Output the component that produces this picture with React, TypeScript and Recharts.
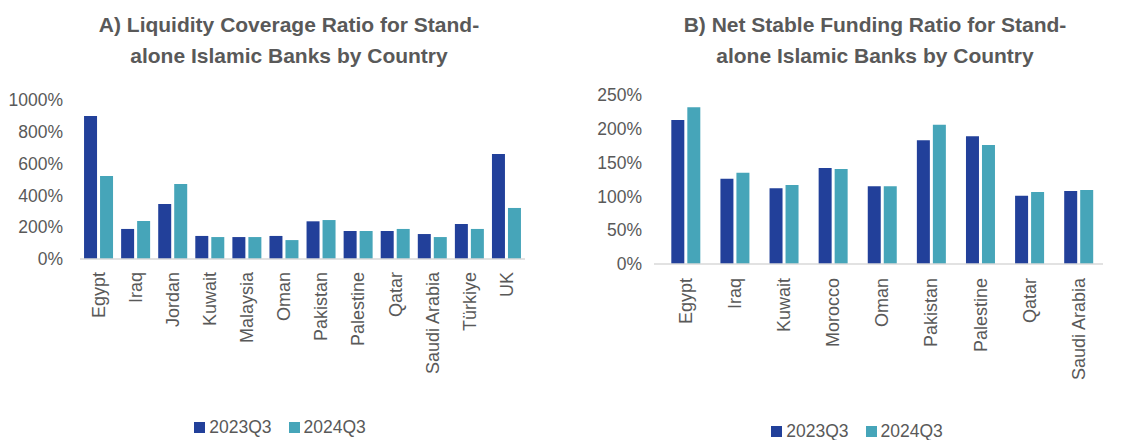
import React from 'react';
import { BarChart, Bar, XAxis, YAxis, Legend } from 'recharts';

const FONT = "'Liberation Sans', Arial, Helvetica, sans-serif";
const TEXT = '#595959';
const DARK = '#22409A';
const LIGHT = '#46A5B9';

// Panel A: Liquidity Coverage Ratio
const lcrCountries = ['Egypt', 'Iraq', 'Jordan', 'Kuwait', 'Malaysia', 'Oman', 'Pakistan', 'Palestine', 'Qatar', 'Saudi Arabia', 'Türkiye', 'UK'];
const lcr2023 = [899, 189, 346, 145, 138, 145, 237, 176, 176, 157, 220, 660];
const lcr2024 = [522, 239, 472, 138, 138, 119, 245, 176, 189, 138, 189, 321];
const lcrTicks = [0, 200, 400, 600, 800, 1000];

// Panel B: Net Stable Funding Ratio
const nsfrCountries = ['Egypt', 'Iraq', 'Kuwait', 'Morocco', 'Oman', 'Pakistan', 'Palestine', 'Qatar', 'Saudi Arabia'];
const nsfr2023 = [213, 126, 112, 142, 115, 183, 189, 101, 108];
const nsfr2024 = [232, 135, 117, 140.5, 115, 206, 176, 106.5, 109.5];
const nsfrTicks = [0, 50, 100, 150, 200, 250];

const seriesNames = ['2023Q3', '2024Q3'];

const lcrData = lcrCountries.map((c, i) => ({ country: c, a: lcr2023[i], b: lcr2024[i] }));
const nsfrData = nsfrCountries.map((c, i) => ({ country: c, a: nsfr2023[i], b: nsfr2024[i] }));

const makeXTick = (offset: number) => (props: any) => {
  const { x, y, payload } = props;
  return (
    <g transform={`translate(${x},${y})`}>
      <text
        transform="rotate(-90)"
        x={-offset}
        y={0}
        dy="0.35em"
        textAnchor="end"
        fill={TEXT}
        fontSize={18}
        fontFamily={FONT}
      >
        {payload.value}
      </text>
    </g>
  );
};

const LegendContent = (props: any) => {
  const { payload } = props;
  return (
    <div
      style={{
        display: 'flex',
        justifyContent: 'center',
        alignItems: 'center',
        height: 20,
        fontSize: 17.5,
        color: TEXT,
        fontFamily: FONT,
      }}
    >
      {(payload || []).map((p: any, i: number) => (
        <span
          key={i}
          style={{ display: 'flex', alignItems: 'center', marginRight: i < payload.length - 1 ? 17 : 0 }}
        >
          <span style={{ display: 'inline-block', width: 11, height: 11, background: p.color, marginRight: 4 }} />
          <span>{p.value}</span>
        </span>
      ))}
    </div>
  );
};

const titleStyle: React.CSSProperties = {
  position: 'absolute',
  top: 9,
  width: 500,
  textAlign: 'center',
  fontFamily: FONT,
  fontWeight: 'bold',
  fontSize: 21,
  lineHeight: '31px',
  color: TEXT,
};

const pct = (v: number) => `${v}%`;

export default function App() {
  return (
    <div style={{ position: 'absolute', left: 0, top: 0, width: 1134, height: 440, background: '#fff', overflow: 'hidden' }}>
      <div style={{ ...titleStyle, left: 289 - 250 }}>
        A) Liquidity Coverage Ratio for Stand-
        <br />
        alone Islamic Banks by Country
      </div>
      <div style={{ ...titleStyle, left: 875 - 250 }}>
        B) Net Stable Funding Ratio for Stand-
        <br />
        alone Islamic Banks by Country
      </div>

      <div style={{ position: 'absolute', left: 0, top: 0 }}>
        <BarChart
          width={567}
          height={440}
          data={lcrData}
          margin={{ top: 100, right: 42, bottom: 3, left: 0 }}
          barGap={3}
          barCategoryGap="10.9%"
        >
          <XAxis
            dataKey="country"
            interval={0}
            tickLine={false}
            tickSize={0}
            tickMargin={0}
            height={158}
            axisLine={{ stroke: '#D9D9D9', strokeWidth: 1.5 }}
            tick={makeXTick(13)}
          />
          <YAxis
            domain={[0, 1000]}
            ticks={lcrTicks}
            tickFormatter={pct}
            width={80}
            axisLine={false}
            tickLine={false}
            tickSize={0}
            tickMargin={17}
            tick={{ fill: TEXT, fontSize: 17.5, fontFamily: FONT }}
          />
          <Legend
            verticalAlign="bottom"
            content={<LegendContent />}
            wrapperStyle={{ left: 0, width: 560 }}
          />
          <Bar dataKey="a" name={seriesNames[0]} fill={DARK} isAnimationActive={false} />
          <Bar dataKey="b" name={seriesNames[1]} fill={LIGHT} isAnimationActive={false} />
        </BarChart>
      </div>

      <div style={{ position: 'absolute', left: 567, top: 0 }}>
        <BarChart
          width={567}
          height={440}
          data={nsfrData}
          margin={{ top: 95, right: 31, bottom: 0, left: 0 }}
          barGap={3}
          barCategoryGap="21%"
        >
          <XAxis
            dataKey="country"
            interval={0}
            tickLine={false}
            tickSize={0}
            tickMargin={0}
            height={156}
            padding={{ left: 7, right: 0 }}
            axisLine={{ stroke: '#D9D9D9', strokeWidth: 1.5 }}
            tick={makeXTick(14)}
          />
          <YAxis
            domain={[0, 250]}
            ticks={nsfrTicks}
            tickFormatter={pct}
            width={87}
            axisLine={false}
            tickLine={false}
            tickSize={0}
            tickMargin={12}
            tick={{ fill: TEXT, fontSize: 17.5, fontFamily: FONT }}
          />
          <Legend
            verticalAlign="bottom"
            content={<LegendContent />}
            wrapperStyle={{ left: 10, width: 560, bottom: -1 }}
          />
          <Bar dataKey="a" name={seriesNames[0]} fill={DARK} isAnimationActive={false} />
          <Bar dataKey="b" name={seriesNames[1]} fill={LIGHT} isAnimationActive={false} />
        </BarChart>
      </div>
    </div>
  );
}
